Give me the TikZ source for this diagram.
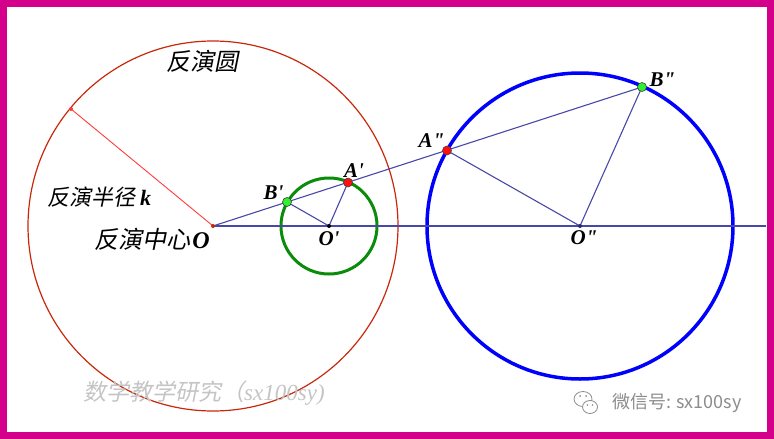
\documentclass[tikz,border=0pt]{standalone}
\usepackage{fontspec}
\setmainfont{Liberation Serif}
\newfontfamily\latf{Liberation Serif}[Ligatures=TeXOff]
\newfontfamily\cjk{Noto Sans CJK SC}[FakeSlant=0.2]
\newfontfamily\cjkup{Noto Sans CJK SC}
\usetikzlibrary{positioning}
\definecolor{framec}{HTML}{D4008C}
\definecolor{bigc}{HTML}{C8280A}
\definecolor{radc}{HTML}{FF3C3C}
\definecolor{greenc}{HTML}{0A8C0A}
\definecolor{bluec}{HTML}{0000FF}
\definecolor{segc}{HTML}{4848A8}
\definecolor{ptred}{HTML}{FF1010}
\definecolor{ptgreen}{HTML}{30F030}
\definecolor{wmgrey}{HTML}{C4C4C4}
\definecolor{wxgrey}{HTML}{8C8C8C}
\newcommand{\pr}{\char"27}
\newcommand{\ppr}{\char"22}

\begin{document}
\begin{tikzpicture}[x=1pt,y=-1pt,
    pt/.style={circle,draw=black!75,line width=0.6pt,fill=#1,inner sep=0pt,minimum size=9pt},
    dot/.style={circle,fill=#1,inner sep=0pt,minimum size=4pt},
    lbl/.style={inner sep=0pt,font=\fontsize{21}{22}\selectfont\latf\bfseries\itshape},
    zh/.style={inner sep=0pt,font=\fontsize{#1}{#1}\selectfont\cjk},
    seg/.style={segc,line width=1.1pt}]

  \useasboundingbox (0,0) rectangle (774,439);
  \draw[framec,line width=6.5pt] (3.25,3.25) rectangle (770.5,435.5);

  % centres and points
  \coordinate (O) at (213,226);
  \coordinate (Op) at (329,226);
  \coordinate (Opp) at (580,226);
  \coordinate (Ap) at (348,182.5);
  \coordinate (Bp) at (287,202);
  \coordinate (App) at (447,150.5);
  \coordinate (Bpp) at (642,87);
  \coordinate (K) at (71,109);
  \coordinate (E) at (766,226);

  % circles
  \draw[bigc,line width=1.2pt] (O) circle[radius=185pt];
  \draw[greenc,line width=3pt] (Op) circle[radius=48pt];
  \draw[bluec,line width=3.5pt] (Opp) circle[radius=153pt];

  % segments
  \draw[radc,line width=0.9pt] (O) -- (K);
  \draw[seg] (O) -- (E);
  \draw[seg] (O) -- (Bpp);
  \draw[seg] (Bp) -- (Op) -- (Ap);
  \draw[seg] (App) -- (Opp) -- (Bpp);

  % point marks
  \node[dot=radc] (k) at (K) {};
  \node[dot=bigc] (o) at (O) {};
  \node[dot=black] (o1) at (Op) {};
  \node[dot=segc!60!black] (o2) at (Opp) {};
  \node[pt=ptred] (a1) at (Ap) {};
  \node[pt=ptgreen] (b1) at (Bp) {};
  \node[pt=ptred] (a2) at (App) {};
  \node[pt=ptgreen] (b2) at (Bpp) {};

  % labels
  \node[lbl,above=0pt of a1,xshift=6pt] (la1) {A\pr};
  \node[lbl,above left=-1pt and 0pt of b1] (lb1) {B\pr};
  \node[lbl,below=3pt of o1] (lo1) {O\pr};
  \node[lbl,above left=-1pt and -1pt of a2] (la2) {A\ppr};
  \node[lbl,above right=-3pt and 4pt of b2] (lb2) {B\ppr};
  \node[lbl,below=2pt of o2,xshift=4pt] (lo2) {O\ppr};

  \node[zh=24] (t1) at (202,61) {反演圆};
  \node[zh=22,anchor=west] (t2) at (47,197) {反演半径 {\latf\bfseries\itshape k}};
  \node[zh=24,anchor=east] (t3) at (210,239) {反演中心\kern2pt{\latf\bfseries\itshape O}};

  % watermark
  \node[zh=23,text=wmgrey,anchor=west] (wm) at (83,393) {数学教学研究（{\rmfamily\itshape sx100sy)}};
  \begin{scope}[wxgrey,line width=0.8pt]
    \draw (583,399) ellipse[x radius=9pt,y radius=7.5pt];
    \draw[fill=white] (590,407) ellipse[x radius=7.5pt,y radius=6.5pt];
    \fill (580,396) circle[radius=1pt] (586,396) circle[radius=1pt];
    \fill (587.5,405) circle[radius=0.9pt] (592.5,405) circle[radius=0.9pt];
  \end{scope}
  \node[inner sep=0pt,font=\fontsize{18}{18}\selectfont\cjkup,text=wxgrey,anchor=west] (wx) at (612,403) {微信号: sx100sy};
\end{tikzpicture}
\end{document}
